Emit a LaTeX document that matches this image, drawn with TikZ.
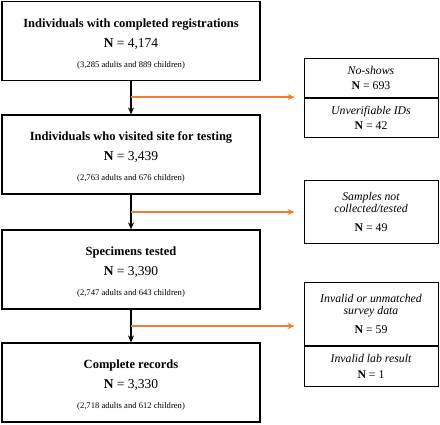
\documentclass[tikz,border=0pt]{standalone}
\usepackage{fontspec}
\setmainfont{Liberation Serif}
\usetikzlibrary{arrows.meta}
\definecolor{flowor}{HTML}{ED7D31}

\tikzset{
  mainbox/.style={draw, line width=1.2pt, minimum width=258pt, minimum height=79pt, align=center, inner sep=0pt},
  sidebox/.style={draw, line width=1pt, minimum width=134pt, align=center, inner sep=0pt},
  flow/.style={line width=2pt, -{Stealth[length=7pt,width=6pt]}},
  drop/.style={line width=2pt, flowor, -{Stealth[length=7pt,width=6pt]}, shorten >=9pt}
}
\newcommand{\ttl}[1]{{\fontsize{12.5}{15}\selectfont\bfseries\rule{0pt}{14pt}#1}}
\newcommand{\cnt}[1]{{\fontsize{13.5}{15}\selectfont\textbf{N} = #1}}
\newcommand{\sub}[1]{{\fontsize{8.6}{10}\selectfont #1}}
\newcommand{\why}[1]{{\fontsize{11.8}{13.5}\selectfont\itshape #1}}
\newcommand{\scnt}[1]{{\fontsize{11.8}{13.5}\selectfont\textbf{N} = #1}}

\begin{document}
\begin{tikzpicture}[x=1pt, y=-1pt]
    \useasboundingbox (0,0) rectangle (440,424);

    % Main boxes
    \node[mainbox] (reg) at (131,41) {\ttl{Individuals with completed registrations}\\[8pt] \cnt{4,174}\\[8pt] \sub{(3,285 adults and 889 children)}};
    \node[mainbox] (vis) at (131,154.5) {\ttl{Individuals who visited site for testing}\\[8pt] \cnt{3,439}\\[8pt] \sub{(2,763 adults and 676 children)}};
    \node[mainbox] (spc) at (131,269.5) {\ttl{Specimens tested}\\[8pt] \cnt{3,390}\\[8pt] \sub{(2,747 adults and 643 children)}};
    \node[mainbox] (rec) at (131,382.5) {\ttl{Complete records}\\[8pt] \cnt{3,330}\\[8pt] \sub{(2,718 adults and 612 children)}};

    % Exclusion boxes
    \node[sidebox, minimum height=39pt] (nos) at (371,77.5) {\why{No-shows}\\[3pt] \scnt{693}};
    \node[sidebox, minimum height=39pt, anchor=north] (uid) at (nos.south) {\why{Unverifiable IDs}\\[3pt] \scnt{42}};
    \node[sidebox, minimum height=63pt] (nsp) at (371,211.5) {\why{Samples not}\\ \why{collected/tested}\\[7pt] \scnt{49}};
    \node[sidebox, minimum height=63pt] (inv) at (371,313.5) {\why{Invalid or unmatched}\\ \why{survey data}\\[7pt] \scnt{59}};
    \node[sidebox, minimum height=40pt, anchor=north] (lab) at (inv.south) {\why{Invalid lab result}\\[4pt] \scnt{1}};

    % Branch points on the main line
    \coordinate (b1) at (131,97);
    \coordinate (b2) at (131,212);
    \coordinate (b3) at (131,326);

    % Main flow
    \draw[flow] (reg) -- (vis);
    \draw[flow] (vis) -- (spc);
    \draw[flow] (spc) -- (rec);

    % Exclusions
    \draw[drop] (b1) -- (b1 -| nos.west);
    \draw[drop] (b2) -- (b2 -| nsp.west);
    \draw[drop] (b3) -- (b3 -| inv.west);
\end{tikzpicture}
\end{document}
